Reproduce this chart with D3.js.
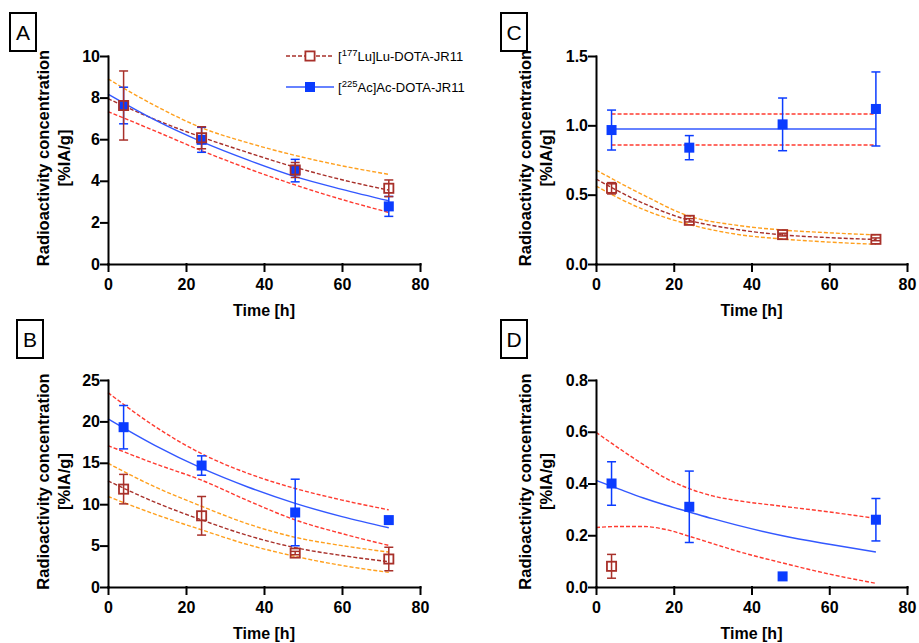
<!DOCTYPE html>
<html>
<head>
<meta charset="utf-8">
<script src="https://cdn.jsdelivr.net/npm/d3@7"></script>
<style>
  body { margin: 0; background: #fff; }
  text { font-family: "Liberation Sans", Arial, Helvetica, sans-serif; fill: #000; }
  .axis path, .axis line { stroke: #000; stroke-width: 2; stroke-linecap: square; }
  .axis text { font-size: 16px; font-weight: bold; font-family: "Liberation Sans", Arial, Helvetica, sans-serif; }
</style>
</head>
<body>
<svg id="chart" width="919" height="643"></svg>
<script>
// sampling times of the measurements and of the fitted curves
var times = [4, 24, 48, 72];
var fitTimes = [0, 12, 24, 36, 48, 60, 72];
var fitTimesD = [0, 6, 12, 18, 24, 30, 36, 48, 60, 72];
var xTicks = [0, 20, 40, 60, 80];

// panel A
var luA = [7.62, 6.07, 4.52, 3.64];
var luA_sd = [1.66, 0.53, 0.36, 0.4];
var acA = [7.62, 5.97, 4.49, 2.77];
var acA_sd = [0.88, 0.6, 0.54, 0.48];
var luA_fit = [7.95, 6.95, 6.1, 5.35, 4.65, 4.05, 3.55];
var luA_ciHigh = [8.9, 7.62, 6.55, 5.82, 5.22, 4.72, 4.31];
var acA_fit = [8.17, 6.93, 5.88, 4.99, 4.2, 3.59, 3.04];
var acA_ciLow = [7.33, 6.4, 5.45, 4.58, 3.8, 3.1, 2.48];
var yTicksA = [0, 2, 4, 6, 8, 10];

// panel B
var luB = [11.82, 8.6, 4.1, 3.38];
var luB_sd = [1.78, 2.33, 0.2, 1.42];
var acB = [19.3, 14.67, 9.0, 8.08];
var acB_sd = [2.62, 1.17, 4.02, 0];
var luB_fit = [12.82, 10.25, 8.1, 6.2, 4.75, 3.8, 3.05];
var luB_ciHigh = [14.95, 12.1, 9.75, 7.6, 6.0, 5.0, 4.22];
var luB_ciLow = [10.93, 8.8, 6.9, 5.1, 3.7, 2.6, 1.77];
var acB_fit = [20.3, 17.1, 14.35, 12.05, 10.1, 8.5, 7.15];
var acB_ciHigh = [23.47, 19.4, 16.1, 13.7, 11.9, 10.5, 9.32];
var acB_ciLow = [17.08, 14.9, 12.9, 10.4, 8.1, 6.45, 5.02];
var yTicksB = [0, 5, 10, 15, 20, 25];

// panel C
var luC = [0.546, 0.315, 0.212, 0.178];
var luC_sd = [0.041, 0.012, 0.01, 0.01];
var acC = [0.966, 0.839, 1.007, 1.118];
var acC_sd = [0.144, 0.087, 0.19, 0.267];
var luC_fit = [0.613, 0.44, 0.315, 0.25, 0.21, 0.19, 0.177];
var luC_ciHigh = [0.678, 0.5, 0.345, 0.28, 0.245, 0.225, 0.21];
var luC_ciLow = [0.562, 0.395, 0.285, 0.215, 0.18, 0.158, 0.142];
var acC_fitTimes = [4, 72];
var acC_fit = [0.974, 0.974];
var acC_ciHigh = [1.082, 1.082];
var acC_ciLow = [0.858, 0.858];
var yTicksC = [0, 0.5, 1.0, 1.5];

// panel D
var luD_times = [4];
var luD = [0.08];
var luD_sd = [0.046];
var acD = [0.40, 0.31, 0.041, 0.26];
var acD_sd = [0.084, 0.138, 0, 0.082];
var acD_fit = [0.412, 0.378, 0.345, 0.316, 0.29, 0.264, 0.24, 0.198, 0.165, 0.135];
var acD_ciHigh = [0.598, 0.535, 0.475, 0.42, 0.38, 0.352, 0.335, 0.312, 0.29, 0.265];
var acD_ciLow = [0.23, 0.234, 0.234, 0.222, 0.196, 0.168, 0.14, 0.093, 0.05, 0.014];
var yTicksD = [0, 0.2, 0.4, 0.6, 0.8];

var legendLabels = [["[", "177", "Lu]Lu-DOTA-JR11"], ["[", "225", "Ac]Ac-DOTA-JR11"]];

var luColor = "#a8302a", acColor = "#0b3cff", acLine = "#3358ff";
var redCI = "#ff3b30", orangeCI = "#ffa01e";

var svg = d3.select("#chart");

function zip(xs, ys) { return xs.map(function(x, i) { return [x, ys[i]]; }); }

function drawPanel(p) {
  var x = d3.scaleLinear().domain([0, 80]).range([p.left, p.right]);
  var y = d3.scaleLinear().domain([0, p.yMax]).range([p.bottom, p.top]);
  var g = svg.append("g");

  var line = d3.line().x(function(d) { return x(d[0]); }).y(function(d) { return y(d[1]); })
    .curve(d3.curveMonotoneX);

  p.curves.forEach(function(c) {
    g.append("path").datum(zip(c.t, c.v))
      .attr("d", line).attr("fill", "none")
      .attr("stroke", c.color).attr("stroke-width", c.width || 1.4)
      .attr("stroke-dasharray", c.dash ? "4,2" : null);
  });

  p.series.forEach(function(s) {
    var pts = s.t.map(function(t, i) { return { t: t, m: s.m[i], sd: s.sd[i] }; });
    var eb = g.append("g").attr("stroke", s.color).attr("stroke-width", 1.5);
    pts.filter(function(d) { return d.sd > 0; }).forEach(function(d) {
      eb.append("line").attr("x1", x(d.t)).attr("x2", x(d.t))
        .attr("y1", y(d.m - d.sd)).attr("y2", y(d.m + d.sd));
      [d.m - d.sd, d.m + d.sd].forEach(function(v) {
        eb.append("line").attr("x1", x(d.t) - 4.5).attr("x2", x(d.t) + 4.5)
          .attr("y1", y(v)).attr("y2", y(v));
      });
    });
    g.selectAll(null).data(pts).enter().append("rect")
      .attr("x", function(d) { return x(d.t) - (s.hollow ? 4.6 : 5); })
      .attr("y", function(d) { return y(d.m) - (s.hollow ? 4.6 : 5); })
      .attr("width", s.hollow ? 9.2 : 10).attr("height", s.hollow ? 9.2 : 10)
      .attr("fill", s.hollow ? "none" : s.color)
      .attr("stroke", s.hollow ? s.color : "none").attr("stroke-width", 1.8);
  });

  g.append("g").attr("class", "axis").attr("transform", "translate(0," + p.bottom + ")")
    .call(d3.axisBottom(x).tickValues(xTicks).tickSize(7).tickSizeOuter(0).tickPadding(8));
  g.append("g").attr("class", "axis").attr("transform", "translate(" + p.left + ",0)")
    .call(d3.axisLeft(y).tickValues(p.yTicks).tickSize(7).tickSizeOuter(0).tickPadding(1)
      .tickFormat(p.fmt));

  g.append("text").attr("x", (p.left + p.right) / 2).attr("y", p.bottom + 52)
    .attr("text-anchor", "middle").attr("font-size", 16).attr("font-weight", "bold")
    .text("Time [h]");

  var cy = (p.top + p.bottom) / 2 - 2;
  var yl = g.append("text").attr("transform", "translate(" + p.labelX + "," + cy + ") rotate(-90)")
    .attr("text-anchor", "middle").attr("font-size", 16.5).attr("font-weight", "bold");
  yl.append("tspan").attr("x", 0).attr("y", 0).text("Radioactivity concentration");
  yl.append("tspan").attr("x", 0).attr("y", 21).text("[%IA/g]");

  g.append("rect").attr("x", p.box[0]).attr("y", p.box[1]).attr("width", 26).attr("height", 38)
    .attr("fill", "none").attr("stroke", "#000").attr("stroke-width", 2);
  g.append("text").attr("x", p.box[0] + 13).attr("y", p.box[1] + 27)
    .attr("text-anchor", "middle").attr("font-size", 21).text(p.letter);
}

var fmt0 = d3.format("d"), fmt1 = d3.format(".1f");

drawPanel({
  letter: "A", box: [10, 13], left: 108, right: 420, top: 56, bottom: 264, yMax: 10,
  yTicks: yTicksA, fmt: fmt0, labelX: 49,
  curves: [
    { t: fitTimes, v: luA_ciHigh, color: orangeCI, dash: true },
    { t: fitTimes, v: acA_ciLow, color: redCI, dash: true },
    { t: fitTimes, v: luA_fit, color: luColor, dash: true },
    { t: fitTimes, v: acA_fit, color: acLine }
  ],
  series: [
    { t: times, m: acA, sd: acA_sd, color: acColor },
    { t: times, m: luA, sd: luA_sd, color: luColor, hollow: true }
  ]
});

drawPanel({
  letter: "B", box: [17, 320], left: 108, right: 420, top: 380, bottom: 587, yMax: 25,
  yTicks: yTicksB, fmt: fmt0, labelX: 49,
  curves: [
    { t: fitTimes, v: acB_ciHigh, color: redCI, dash: true },
    { t: fitTimes, v: acB_ciLow, color: redCI, dash: true },
    { t: fitTimes, v: luB_ciHigh, color: orangeCI, dash: true },
    { t: fitTimes, v: luB_ciLow, color: orangeCI, dash: true },
    { t: fitTimes, v: luB_fit, color: luColor, dash: true },
    { t: fitTimes, v: acB_fit, color: acLine }
  ],
  series: [
    { t: times, m: acB, sd: acB_sd, color: acColor },
    { t: times, m: luB, sd: luB_sd, color: luColor, hollow: true }
  ]
});

drawPanel({
  letter: "C", box: [501, 13], left: 596, right: 907, top: 56, bottom: 264, yMax: 1.5,
  yTicks: yTicksC, fmt: fmt1, labelX: 531,
  curves: [
    { t: acC_fitTimes, v: acC_ciHigh, color: redCI, dash: true },
    { t: acC_fitTimes, v: acC_ciLow, color: redCI, dash: true },
    { t: acC_fitTimes, v: acC_fit, color: acLine },
    { t: fitTimes, v: luC_ciHigh, color: orangeCI, dash: true },
    { t: fitTimes, v: luC_ciLow, color: orangeCI, dash: true },
    { t: fitTimes, v: luC_fit, color: luColor, dash: true }
  ],
  series: [
    { t: times, m: acC, sd: acC_sd, color: acColor },
    { t: times, m: luC, sd: luC_sd, color: luColor, hollow: true }
  ]
});

drawPanel({
  letter: "D", box: [501, 320], left: 596, right: 907, top: 380, bottom: 587, yMax: 0.8,
  yTicks: yTicksD, fmt: fmt1, labelX: 531,
  curves: [
    { t: fitTimesD, v: acD_ciHigh, color: redCI, dash: true },
    { t: fitTimesD, v: acD_ciLow, color: redCI, dash: true },
    { t: fitTimesD, v: acD_fit, color: acLine }
  ],
  series: [
    { t: times, m: acD, sd: acD_sd, color: acColor },
    { t: luD_times, m: luD, sd: luD_sd, color: luColor, hollow: true }
  ]
});

// legend
var legend = svg.append("g");
legendLabels.forEach(function(lab, i) {
  var ly = 56 + i * 31;
  var col = i === 0 ? luColor : acLine;
  legend.append("line").attr("x1", 286).attr("x2", 334).attr("y1", ly).attr("y2", ly)
    .attr("stroke", col).attr("stroke-width", 1.4).attr("stroke-dasharray", i === 0 ? "4,2" : null);
  if (i === 0) {
    legend.append("rect").attr("x", 305.4).attr("y", ly - 4.6).attr("width", 9.2).attr("height", 9.2)
      .attr("fill", "#fff").attr("stroke", luColor).attr("stroke-width", 1.8);
  } else {
    legend.append("rect").attr("x", 305).attr("y", ly - 5).attr("width", 10).attr("height", 10)
      .attr("fill", acColor);
  }
  var t = legend.append("text").attr("x", 338).attr("y", ly + 5).attr("font-size", 13);
  t.append("tspan").text(lab[0]);
  t.append("tspan").attr("font-size", 9.5).attr("dy", -5).text(lab[1]);
  t.append("tspan").attr("dy", 5).text(lab[2]);
});
</script>
</body>
</html>
